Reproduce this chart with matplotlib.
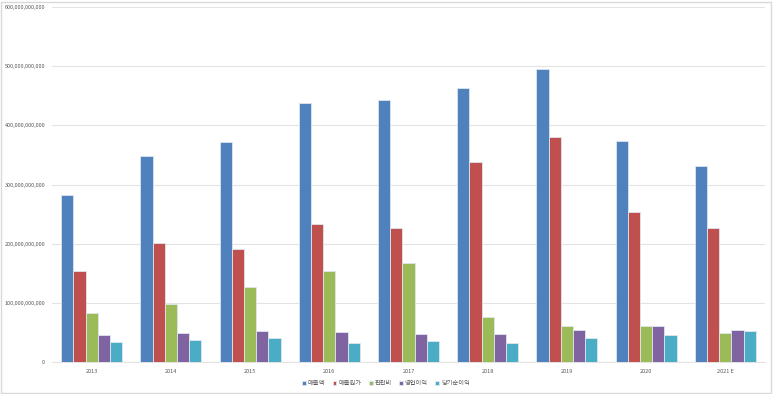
import matplotlib.pyplot as plt
import numpy as np
from matplotlib.ticker import FuncFormatter

plt.rcParams['font.family'] = ['Noto Sans CJK KR', 'DejaVu Sans']

years = ['2013', '2014', '2015', '2016', '2017', '2018', '2019', '2020', '2021 E']
series = ['매출액', '매출원가', '판관비', '영업이익', '당기순이익']
colors = ['#4F81BD', '#C0504D', '#9BBB59', '#8064A2', '#4BACC6']

# values in billions (1e9)
sales = [282, 348, 372, 437, 443, 463, 495, 373, 331]
cogs = [154, 201, 191, 233, 226, 338, 380, 253, 226]
sga = [83, 98, 127, 154, 167, 76, 61, 61, 49]
op_income = [46, 49, 52, 51, 47, 47, 54, 61, 54]
net_income = [34, 37, 41, 32, 35, 32, 40, 46, 52]
values = [sales, cogs, sga, op_income, net_income]

fig = plt.figure(figsize=(7.73, 3.94), dpi=100)
ax = fig.add_axes([52/773, 32/394, 713/773, 355/394])

x = np.arange(len(years))
w = 0.154
for i, (name, vals, c) in enumerate(zip(series, values, colors)):
    ax.bar(x + (i - 2) * w, np.array(vals) * 1e9, width=w, color=c,
           edgecolor='#dfe6ef', linewidth=0.6, label=name, zorder=3)

ax.set_xlim(-0.5, len(years) - 0.5)
ax.set_ylim(0, 600e9)
ax.set_yticks(np.arange(0, 601e9, 100e9))
ax.yaxis.set_major_formatter(FuncFormatter(lambda v, p: f'{int(round(v)):,}'))
ax.set_xticks(x)
ax.set_xticklabels(years)
ax.tick_params(axis='both', length=0, labelsize=4, labelcolor='#595959')
ax.tick_params(axis='y', pad=5)
ax.tick_params(axis='x', pad=5)
ax.grid(axis='y', color='#e3e3e3', linewidth=0.8, zorder=0)
for s in ['top', 'right', 'left']:
    ax.spines[s].set_visible(False)
ax.spines['bottom'].set_color('#e3e3e3')
ax.spines['bottom'].set_linewidth(0.8)

leg = fig.legend(loc='center', bbox_to_anchor=(386/773, 1 - 383/394), ncol=5,
                 frameon=False, fontsize=4.5, handlelength=0.6, handleheight=0.6,
                 handletextpad=0.3, columnspacing=1.2, borderaxespad=0)
for t in leg.get_texts():
    t.set_color('#595959')

fig.patches.append(plt.Rectangle((1/773, 1/394), 770/773, 391/394, transform=fig.transFigure,
                                 fill=False, edgecolor='#d9d9d9', linewidth=1))

fig.savefig('out.png', dpi=100)
